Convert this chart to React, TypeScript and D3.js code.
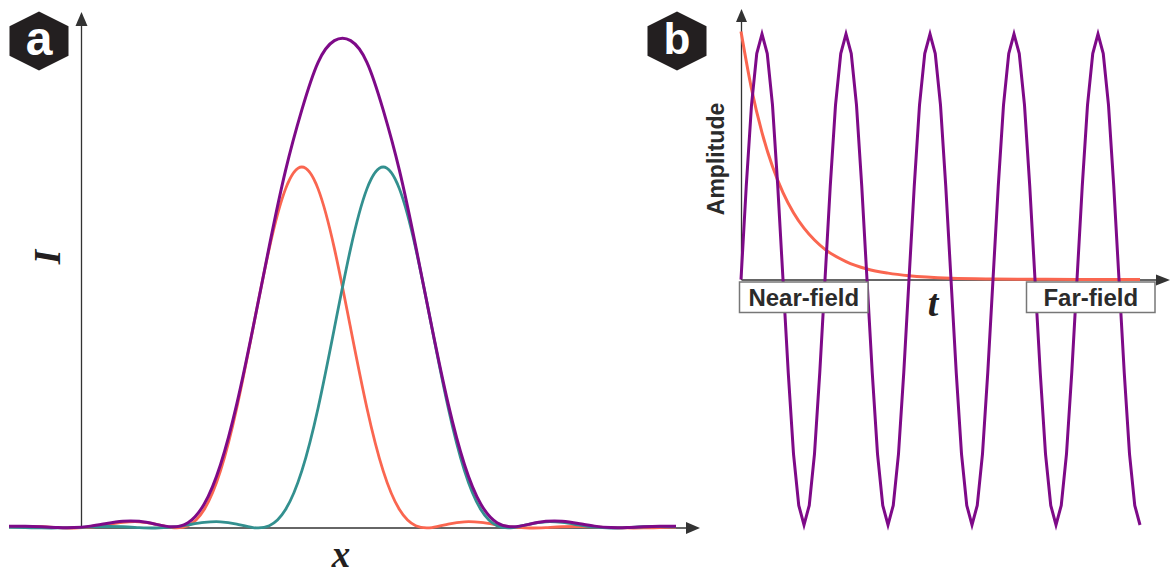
import React from 'react';
import * as d3 from 'd3';

// Panel a: diffraction profiles sampled on a common position grid
const airyX = [-9, -8.5, -8, -7.5, -7, -6.5, -6, -5.5, -5, -4.5, -4, -3.5, -3, -2.5, -2, -1.5, -1, -0.5, 0, 0.5, 1, 1.5, 2, 2.5, 3, 3.5, 4, 4.5, 5, 5.5, 6, 6.5, 7, 7.5, 8, 8.5, 9, 9.5, 10, 10.5, 11, 11.5];
const redIntensity = [0.003, 0.0041, 0.0034, 0.0013, 0.0, 0.0022, 0.0085, 0.0154, 0.0172, 0.0106, 0.0011, 0.0062, 0.0511, 0.1582, 0.3326, 0.5534, 0.7746, 0.9394, 1.0, 0.9394, 0.7746, 0.5534, 0.3326, 0.1582, 0.0511, 0.0062, 0.0011, 0.0106, 0.0172, 0.0154, 0.0085, 0.0022, 0.0, 0.0013, 0.0034, 0.0041, 0.003, 0.0012, 0.0001, 0.0002, 0.001, 0.0016];
const tealIntensity = [0.0016, 0.001, 0.0002, 0.0001, 0.0012, 0.003, 0.0041, 0.0034, 0.0013, 0.0, 0.0022, 0.0085, 0.0154, 0.0172, 0.0106, 0.0011, 0.0062, 0.0511, 0.1582, 0.3326, 0.5534, 0.7746, 0.9394, 1.0, 0.9394, 0.7746, 0.5534, 0.3326, 0.1582, 0.0511, 0.0062, 0.0011, 0.0106, 0.0172, 0.0154, 0.0085, 0.0022, 0.0, 0.0013, 0.0034, 0.0041, 0.003];
const purpleIntensity = [0.0046, 0.0051, 0.0036, 0.0014, 0.0012, 0.0052, 0.0126, 0.0188, 0.0185, 0.0106, 0.0033, 0.0147, 0.0665, 0.1754, 0.3432, 0.5545, 0.7808, 0.9905, 1.1582, 1.29, 1.35, 1.35, 1.29, 1.1582, 0.9905, 0.7808, 0.5545, 0.3432, 0.1754, 0.0665, 0.0147, 0.0033, 0.0106, 0.0185, 0.0188, 0.0126, 0.0052, 0.0012, 0.0014, 0.0036, 0.0051, 0.0046];

// Panel b: oscillation (phase in degrees) and near-field decay
const wavePhase = [0, 22.5, 45, 67.5, 90, 112.5, 135, 157.5, 180, 202.5, 225, 247.5, 270, 292.5, 315, 337.5, 360, 382.5, 405, 427.5, 450, 472.5, 495, 517.5, 540, 562.5, 585, 607.5, 630, 652.5, 675, 697.5, 720, 742.5, 765, 787.5, 810, 832.5, 855, 877.5, 900, 922.5, 945, 967.5, 990, 1012.5, 1035, 1057.5, 1080, 1102.5, 1125, 1147.5, 1170, 1192.5, 1215, 1237.5, 1260, 1282.5, 1305, 1327.5, 1350, 1372.5, 1395, 1417.5, 1440, 1462.5, 1485, 1507.5, 1530, 1552.5, 1575, 1597.5, 1620, 1642.5, 1665, 1687.5, 1710];
const waveAmp = [
  0, 0.38, 0.71, 0.92, 1, 0.92, 0.71, 0.38, 0, -0.38, -0.71, -0.92, -1, -0.92, -0.71, -0.38,
  0, 0.38, 0.71, 0.92, 1, 0.92, 0.71, 0.38, 0, -0.38, -0.71, -0.92, -1, -0.92, -0.71, -0.38,
  0, 0.38, 0.71, 0.92, 1, 0.92, 0.71, 0.38, 0, -0.38, -0.71, -0.92, -1, -0.92, -0.71, -0.38,
  0, 0.38, 0.71, 0.92, 1, 0.92, 0.71, 0.38, 0, -0.38, -0.71, -0.92, -1, -0.92, -0.71, -0.38,
  0, 0.38, 0.71, 0.92, 1, 0.92, 0.71, 0.38, 0, -0.38, -0.71, -0.92, -1,
];
const decayPhase = [0, 45, 90, 135, 180, 225, 270, 315, 360, 450, 540, 630, 720, 900, 1080, 1260, 1440, 1710];
const decayAmp = [1.01, 0.777, 0.598, 0.46, 0.354, 0.272, 0.209, 0.161, 0.123, 0.073, 0.043, 0.026, 0.015, 0.005, 0.002, 0.001, 0.0002, 0];

const panelLetters = ['a', 'b'];
const regionLabels = ['Near-field', 'Far-field'];

const RED = '#FA6650';
const TEAL = '#33908F';
const PURPLE = '#7E0A88';
const AXIS = '#333333';
const DARK = '#231F20';

function hexPoints(cx: number, cy: number, w: number, r: number) {
  return [
    [cx, cy - r], [cx + w, cy - r / 2], [cx + w, cy + r / 2],
    [cx, cy + r], [cx - w, cy + r / 2], [cx - w, cy - r / 2],
  ].map((p) => p.join(',')).join(' ');
}

export default function App() {
  // Panel a scales
  const xA = d3.scaleLinear().domain([-9, 11.5]).range([9, 676]);
  const yA = d3.scaleLinear().domain([0, 1]).range([528, 167]);
  const lineA = (vals: number[]) =>
    d3.line<number>()
      .x((_, i) => xA(airyX[i]))
      .y((d) => yA(d))
      .curve(d3.curveNatural)(vals) as string;

  // Panel b scales
  const xB = d3.scaleLinear().domain([0, 1710]).range([741, 1140]);
  const yB = d3.scaleLinear().domain([-1, 1]).range([525, 34]);
  const wavePath = d3.line<number>()
    .x((_, i) => xB(wavePhase[i]))
    .y((d) => yB(d))
    .curve(d3.curveLinear)(waveAmp) as string;
  const decayPath = d3.line<number>()
    .x((_, i) => xB(decayPhase[i]))
    .y((d) => yB(d))
    .curve(d3.curveMonotoneX)(decayAmp) as string;

  const axA0y = yA(0);
  const axAx = 81.5;
  const axB0y = 280;
  const axBx = 741.5;

  const sans = "'Liberation Sans', Arial, sans-serif";
  const serif = "'Liberation Serif', 'Times New Roman', serif";

  return (
    <svg width={1171} height={574} style={{ position: 'absolute', left: 0, top: 0, background: '#fff' }}>
      <rect x={0} y={0} width={1171} height={574} fill="#fff" />

      {/* Panel a axes */}
      <line x1={axAx} y1={axA0y} x2={axAx} y2={22} stroke={AXIS} strokeWidth={1.3} />
      <polygon points={`${axAx},12 ${axAx - 6},26 ${axAx + 6},26`} fill={AXIS} />
      <line x1={axAx} y1={axA0y} x2={688} y2={axA0y} stroke={AXIS} strokeWidth={1.3} />
      <polygon points={`700,${axA0y} 686,${axA0y - 6} 686,${axA0y + 6}`} fill={AXIS} />

      {/* Panel a curves */}
      <path d={lineA(redIntensity)} fill="none" stroke={RED} strokeWidth={2.8} />
      <path d={lineA(tealIntensity)} fill="none" stroke={TEAL} strokeWidth={2.8} />
      <path d={lineA(purpleIntensity)} fill="none" stroke={PURPLE} strokeWidth={3} />

      <text transform="translate(60,257) rotate(-90)" textAnchor="middle" fontFamily={serif}
        fontStyle="italic" fontWeight="bold" fontSize={37} fill={DARK}>I</text>
      <text x={341} y={567} textAnchor="middle" fontFamily={serif} fontStyle="italic"
        fontWeight="bold" fontSize={37} fill={DARK}>x</text>

      {/* Panel b axes */}
      <line x1={axBx} y1={axB0y} x2={axBx} y2={20} stroke={AXIS} strokeWidth={1.3} />
      <polygon points={`${axBx},9 ${axBx - 5.5},22 ${axBx + 5.5},22`} fill={AXIS} />
      <line x1={axBx} y1={axB0y} x2={1158} y2={axB0y} stroke={AXIS} strokeWidth={1.3} />
      <polygon points={`1170,${axB0y} 1156,${axB0y - 5.5} 1156,${axB0y + 5.5}`} fill={AXIS} />

      {/* Panel b curves */}
      <path d={decayPath} fill="none" stroke={RED} strokeWidth={3} />
      <path d={wavePath} fill="none" stroke={PURPLE} strokeWidth={3} strokeLinejoin="miter" />

      <text transform="translate(724,159) rotate(-90)" textAnchor="middle" fontFamily={sans}
        fontWeight="bold" fontSize={23} fill="#2b2b2b">Amplitude</text>
      <text x={933} y={316} textAnchor="middle" fontFamily={serif} fontStyle="italic"
        fontWeight="bold" fontSize={38} fill={DARK}>t</text>

      {/* Region boxes */}
      {regionLabels.map((lab, i) => {
        const x0 = i === 0 ? 739.5 : 1026.5;
        return (
          <g key={lab}>
            <rect x={x0} y={282} width={128.5} height={30.5} fill="#fff" stroke="#777" strokeWidth={1.5} />
            <text x={x0 + 64.25} y={306} textAnchor="middle" fontFamily={sans} fontWeight="bold"
              fontSize={24} fill="#2b2b2b">{lab}</text>
          </g>
        );
      })}

      {/* Panel letters */}
      {panelLetters.map((l, i) => {
        const cx = i === 0 ? 39 : 677;
        return (
          <g key={l}>
            <polygon points={hexPoints(cx, 41, 29.5, 29.5)} fill={DARK} />
            <text x={cx} y={l === 'a' ? 55 : 53.5} textAnchor="middle" fontFamily={sans} fontWeight="bold"
              fontSize={l === 'a' ? 48 : 44} fill="#fff">{l}</text>
          </g>
        );
      })}
    </svg>
  );
}
